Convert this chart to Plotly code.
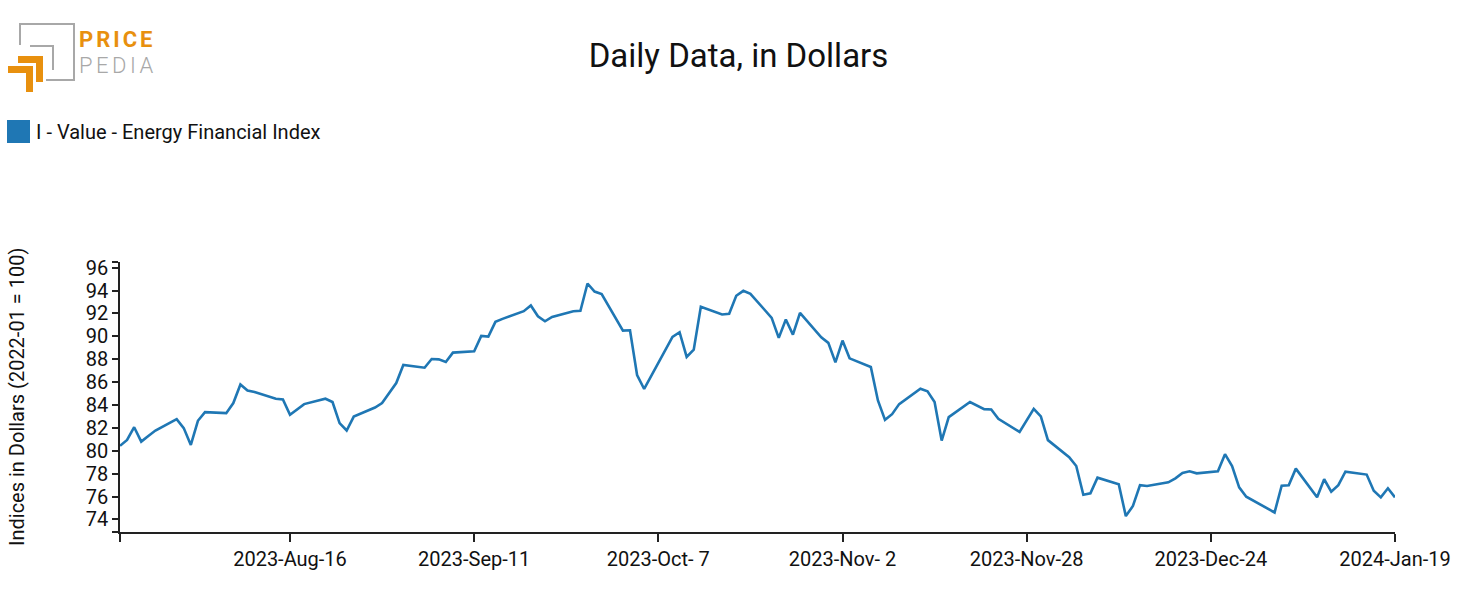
import plotly.graph_objects as go

# ---------------- data ----------------
dates = [
    "2023-07-23", "2023-07-24", "2023-07-25", "2023-07-26", "2023-07-27", "2023-07-28",
    "2023-07-31", "2023-08-01", "2023-08-02", "2023-08-03", "2023-08-04",
    "2023-08-07", "2023-08-08", "2023-08-09", "2023-08-10", "2023-08-11",
    "2023-08-14", "2023-08-15", "2023-08-16", "2023-08-17", "2023-08-18",
    "2023-08-21", "2023-08-22", "2023-08-23", "2023-08-24", "2023-08-25",
    "2023-08-28", "2023-08-29", "2023-08-30", "2023-08-31", "2023-09-01",
    "2023-09-04", "2023-09-05", "2023-09-06", "2023-09-07", "2023-09-08",
    "2023-09-11", "2023-09-12", "2023-09-13", "2023-09-14", "2023-09-15",
    "2023-09-18", "2023-09-19", "2023-09-20", "2023-09-21", "2023-09-22",
    "2023-09-25", "2023-09-26", "2023-09-27", "2023-09-28", "2023-09-29",
    "2023-10-02", "2023-10-03", "2023-10-04", "2023-10-05",
    "2023-10-09", "2023-10-10", "2023-10-11", "2023-10-12", "2023-10-13",
    "2023-10-16", "2023-10-17", "2023-10-18", "2023-10-19", "2023-10-20",
    "2023-10-23", "2023-10-24", "2023-10-25", "2023-10-26", "2023-10-27",
    "2023-10-30", "2023-10-31", "2023-11-01", "2023-11-02", "2023-11-03",
    "2023-11-06", "2023-11-07", "2023-11-08", "2023-11-09", "2023-11-10",
    "2023-11-13", "2023-11-14", "2023-11-15", "2023-11-16", "2023-11-17",
    "2023-11-20", "2023-11-22", "2023-11-23", "2023-11-24",
    "2023-11-27", "2023-11-29", "2023-11-30", "2023-12-01",
    "2023-12-04", "2023-12-05", "2023-12-06", "2023-12-07", "2023-12-08",
    "2023-12-11", "2023-12-12", "2023-12-13", "2023-12-14", "2023-12-15",
    "2023-12-18", "2023-12-19", "2023-12-20", "2023-12-21", "2023-12-22",
    "2023-12-25", "2023-12-26", "2023-12-27", "2023-12-28", "2023-12-29",
    "2024-01-02", "2024-01-03", "2024-01-04", "2024-01-05",
    "2024-01-08", "2024-01-09", "2024-01-10", "2024-01-11", "2024-01-12",
    "2024-01-15", "2024-01-16", "2024-01-17", "2024-01-18", "2024-01-19",
]
values = [
    80.43, 80.95, 82.06, 80.80, 81.30, 81.77,
    82.77, 81.98, 80.51, 82.62, 83.38,
    83.29, 84.17, 85.80, 85.27, 85.13,
    84.55, 84.48, 83.14, 83.64, 84.08,
    84.55, 84.26, 82.42, 81.77, 82.99,
    83.78, 84.17, 85.04, 85.92, 87.50,
    87.26, 88.02, 87.99, 87.76, 88.58,
    88.69, 90.04, 89.98, 91.27, 91.53,
    92.20, 92.70, 91.76, 91.32, 91.70,
    92.20, 92.23, 94.62, 93.92, 93.69,
    90.50, 90.53, 86.62, 85.40,
    89.95, 90.36, 88.20, 88.84, 92.58,
    91.91, 91.97, 93.55, 93.98, 93.72,
    91.62, 89.87, 91.47, 90.15, 92.06,
    89.92, 89.43, 87.73, 89.63, 88.08,
    87.32, 84.40, 82.70, 83.20, 84.08,
    85.42, 85.19, 84.26, 80.89, 82.94,
    84.26, 83.64, 83.61, 82.79,
    81.65, 83.67, 83.00, 80.93,
    79.44, 78.67, 76.16, 76.28, 77.65,
    77.07, 74.29, 75.17, 77.00, 76.92,
    77.24, 77.59, 78.06, 78.21, 78.03,
    78.21, 79.70, 78.67, 76.80, 75.98,
    74.61, 76.95, 76.98, 78.44,
    75.93, 77.51, 76.42, 77.00, 78.17,
    77.92, 76.51, 75.93, 76.72, 75.93,
]
series_name = "I - Value - Energy Financial Index"
chart_title = "Daily Data, in Dollars"
y_title = "Indices in Dollars (2022-01 = 100)"

x_range = ["2023-07-23", "2024-01-19"]
y_range = [72.9, 96.5]
x_tick_dates = ["2023-07-23", "2023-08-16", "2023-09-11", "2023-10-07", "2023-11-02",
                "2023-11-28", "2023-12-24", "2024-01-19"]
x_tick_labels = ["", "2023-Aug-16", "2023-Sep-11", "2023-Oct- 7", "2023-Nov- 2",
                 "2023-Nov-28", "2023-Dec-24", "2024-Jan-19"]
y_tick_vals = [72.9, 74, 76, 78, 80, 82, 84, 86, 88, 90, 92, 94, 96, 96.5]
y_tick_labels = ["", "74", "76", "78", "80", "82", "84", "86", "88", "90", "92", "94", "96", ""]

# ---------------- layout geometry ----------------
W, H = 1477, 615
L, R, T, B = 120, 82, 262, 83
PW, PH = W - L - R, H - T - B

def px(x):
    return (x - L) / PW

def py(y):
    return (H - B - y) / PH

BLUE = "#1f77b4"
ORANGE = "#E8900E"
GRAY = "#A8A8A8"
FONT = "Roboto"
FS = 20

fig = go.Figure()
fig.add_trace(go.Scatter(
    x=dates, y=values, mode="lines", name=series_name,
    line=dict(color=BLUE, width=2.6), showlegend=False,
))

shapes = []
# legend swatch
shapes.append(dict(type="rect", xref="paper", yref="paper",
                   x0=px(7), x1=px(30), y0=py(143), y1=py(120),
                   fillcolor=BLUE, line=dict(width=0)))
# logo: gray outlines
shapes.append(dict(type="path", xref="paper", yref="paper",
                   path=f"M {px(20)},{py(45)} L {px(20)},{py(24)} L {px(74)},{py(24)} L {px(74)},{py(80)} L {px(46)},{py(80)}",
                   line=dict(color=GRAY, width=2)))
shapes.append(dict(type="path", xref="paper", yref="paper",
                   path=f"M {px(30)},{py(46)} L {px(53)},{py(46)} L {px(53)},{py(70)}",
                   line=dict(color=GRAY, width=2)))
# logo: orange L shapes
for (x0, y0, x1, y1, t) in [(18, 56, 43, 82, 7), (8, 66, 33, 92, 7)]:
    shapes.append(dict(type="path", xref="paper", yref="paper",
                       path=(f"M {px(x0)},{py(y0)} L {px(x1)},{py(y0)} L {px(x1)},{py(y1)} "
                             f"L {px(x1 - t)},{py(y1)} L {px(x1 - t)},{py(y0 + t)} L {px(x0)},{py(y0 + t)} Z"),
                       fillcolor=ORANGE, line=dict(width=0)))

logo_text = (f"<span style='font-size:22px;color:{ORANGE};font-weight:bold;letter-spacing:3px'>PRICE</span><br>"
             f"<span style='font-size:22px;color:{GRAY};font-weight:300;letter-spacing:3.5px'>PEDIA</span>")

annotations = [
    dict(text=series_name, xref="paper", yref="paper", x=px(34), y=py(132),
         xanchor="left", yanchor="middle", showarrow=False,
         font=dict(family=FONT, size=FS, color="#111")),
    dict(text=y_title, xref="paper", yref="paper", x=px(17), y=py(397),
         xanchor="center", yanchor="middle", textangle=-90, showarrow=False,
         font=dict(family=FONT, size=FS, color="#111")),
    dict(text=logo_text, xref="paper", yref="paper", x=px(77), y=py(25),
         xanchor="left", yanchor="top", align="left", showarrow=False,
         font=dict(family=FONT, size=20, color=ORANGE)),
]

fig.update_layout(
    width=W, height=H,
    margin=dict(l=L, r=R, t=T, b=B, autoexpand=False),
    paper_bgcolor="white", plot_bgcolor="white",
    font=dict(family=FONT, size=FS, color="#111"),
    title=dict(text=chart_title, x=0.5, xref="container", xanchor="center",
               y=1 - 55 / H, yref="container", yanchor="middle",
               font=dict(family=FONT, size=33, color="#111")),
    shapes=shapes, annotations=annotations,
    showlegend=False,
)
fig.update_xaxes(
    type="date", range=x_range, tickmode="array", tickvals=x_tick_dates, ticktext=x_tick_labels,
    showgrid=False, zeroline=False, showline=True, linecolor="#222", linewidth=1.5,
    ticks="outside", ticklen=8, tickwidth=1.5, tickcolor="#222",
    tickfont=dict(family=FONT, size=FS, color="#111"),
)
fig.update_yaxes(
    range=y_range, tickmode="array", tickvals=y_tick_vals, ticktext=y_tick_labels,
    showgrid=False, zeroline=False, showline=True, linecolor="#222", linewidth=1.5,
    ticks="outside", ticklen=6, tickwidth=1.5, tickcolor="#222",
    tickfont=dict(family=FONT, size=FS, color="#111"),
)

fig.write_html("out.html")
